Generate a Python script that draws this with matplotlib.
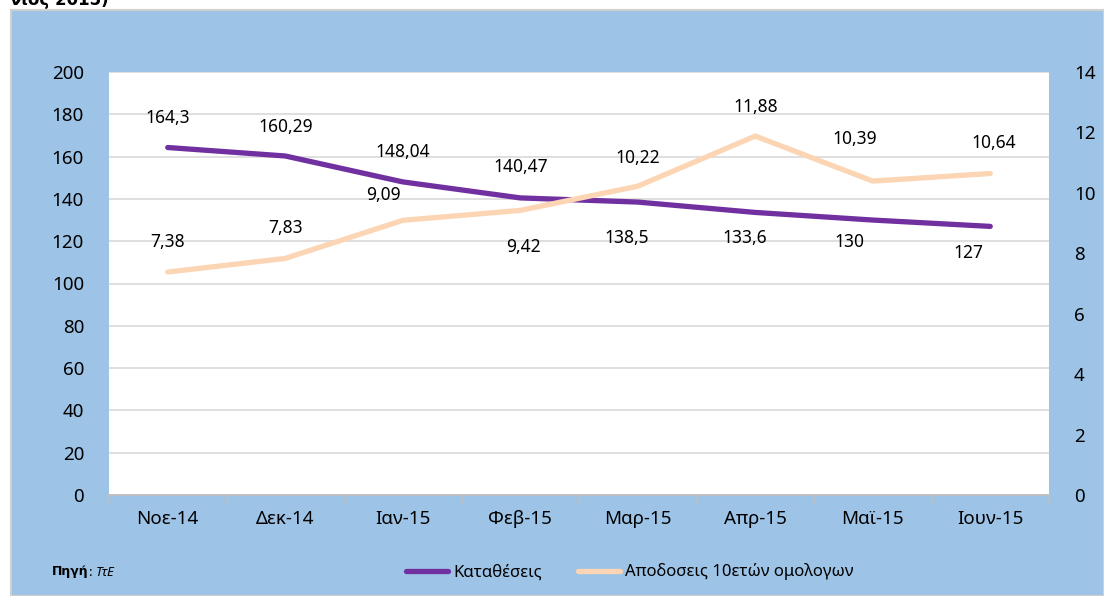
import matplotlib
matplotlib.use("Agg")
import matplotlib.pyplot as plt
from matplotlib.patches import Rectangle
from matplotlib.lines import Line2D
import numpy as np

plt.rcParams['font.family'] = ['Noto Sans', 'DejaVu Sans']

months = ["Νοε-14", "Δεκ-14", "Ιαν-15", "Φεβ-15", "Μαρ-15", "Απρ-15", "Μαϊ-15", "Ιουν-15"]
deposits = [164.3, 160.29, 148.04, 140.47, 138.5, 133.6, 130, 127]
deposit_labels = ["164,3", "160,29", "148,04", "140,47", "138,5", "133,6", "130", "127"]
yields10 = [7.38, 7.83, 9.09, 9.42, 10.22, 11.88, 10.39, 10.64]
yield_labels = ["7,38", "7,83", "9,09", "9,42", "10,22", "11,88", "10,39", "10,64"]
left_ticks = [0, 20, 40, 60, 80, 100, 120, 140, 160, 180, 200]
right_ticks = [0, 2, 4, 6, 8, 10, 12, 14]

purple = "#7030A0"
peach = "#FCD5B4"
panel = "#9DC3E6"

# label offsets (pixels, right / down)
dep_dx = [0, 0, 0, 0, -11, -11, -23, -22]
dep_dy = [-30, -29, -30, -31, 36, 26, 22, 27]
yld_dx = [0, 0, -19, 3, 0, 0, -18, 3]
yld_dy = [-30, -30, -25, 37, -28, -29, -42, -31]

fig = plt.figure(figsize=(11.04, 5.96), dpi=100)
fig.patch.set_facecolor("white")
fig.patches.append(Rectangle((11/1104, 0), 1 - 11/1104, 586/596, transform=fig.transFigure,
                             facecolor=panel, edgecolor="#D0D0D0", linewidth=1.5, zorder=-5))
fig.text(10/1104, 1.0, "νιος 2015)", fontsize=12, fontweight="bold", family="DejaVu Sans",
         va="center", ha="left")

ax = fig.add_axes([109/1104, 1 - 495/596, (1049 - 109)/1104, (495 - 72)/596])
ax.set_facecolor("white")
x = np.arange(len(months))
ax.set_xlim(-0.5, len(months) - 0.5)
ax.set_ylim(0, 200)
ax.set_yticks(left_ticks)
ax.grid(axis="y", color="#D9D9D9", linewidth=1.2)
ax.set_axisbelow(True)
for s in ["top", "right", "left"]:
    ax.spines[s].set_visible(False)
ax.spines["bottom"].set_color("#BFBFBF")
ax.spines["bottom"].set_linewidth(1.2)
ax.set_xticks(x)
ax.set_xticklabels(months, fontsize=13.5)
ax.tick_params(axis="x", which="major", length=0, pad=11)
ax.set_xticks(np.arange(-0.5, len(months)), minor=True)
ax.tick_params(axis="x", which="minor", length=6, color="#BFBFBF", width=1.2)
ax.tick_params(axis="y", length=0, labelsize=13.5, pad=18)

ax2 = ax.twinx()
ax2.set_ylim(0, 14)
ax2.set_yticks(right_ticks)
ax2.tick_params(axis="y", length=0, labelsize=13.5, pad=18)
for s in ["top", "right", "left", "bottom"]:
    ax2.spines[s].set_visible(False)

ax.plot(x, deposits, color=purple, linewidth=3.8, solid_capstyle="round", zorder=3)
ax2.plot(x, yields10, color=peach, linewidth=3.8, solid_capstyle="round", zorder=3)

px = 0.72  # points per pixel at 100 dpi
for xi, v, lab, dx, dy in zip(x, deposits, deposit_labels, dep_dx, dep_dy):
    ax.annotate(lab, (xi, v), xytext=(dx * px, -dy * px), textcoords="offset points",
                ha="center", va="center", fontsize=12.5, zorder=5)
for xi, v, lab, dx, dy in zip(x, yields10, yield_labels, yld_dx, yld_dy):
    ax2.annotate(lab, (xi, v), xytext=(dx * px, -dy * px), textcoords="offset points",
                 ha="center", va="center", fontsize=12.5, zorder=5)

# legend
handles = [Line2D([], [], color=purple, linewidth=3.8, solid_capstyle="round"),
           Line2D([], [], color=peach, linewidth=3.8, solid_capstyle="round")]
fig.legend(handles, ["Καταθέσεις", "Αποδοσεις 10ετών ομολογων"], loc="center",
           bbox_to_anchor=(630/1104, 1 - 572/596), ncol=2, frameon=False, fontsize=12,
           handlelength=2.5, handletextpad=0.3, columnspacing=2.2)

t1 = fig.text(52/1104, 1 - 572/596, "Πηγή", fontsize=9, fontweight="bold", family="DejaVu Sans",
              va="center", ha="left")
an = ax.annotate(": ", xy=(1, 0.5), xycoords=t1, ha="left", va="center", fontsize=9.5,
                 annotation_clip=False)
ax.annotate("ΤτΕ", xy=(1, 0.5), xycoords=an, ha="left", va="center", fontsize=9.5,
            style="italic", annotation_clip=False)

fig.savefig("out.png", dpi=100, facecolor=fig.get_facecolor())
